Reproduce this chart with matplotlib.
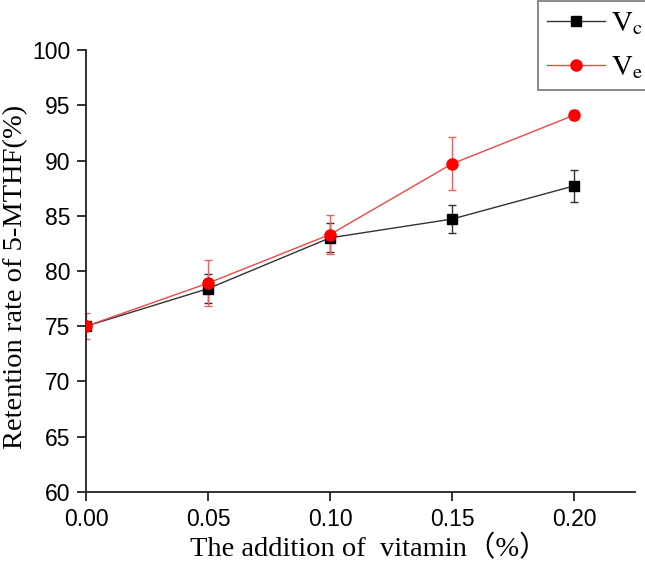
import matplotlib.pyplot as plt

# Retention data
vitamin = [0.00, 0.05, 0.10, 0.15, 0.20]
vc_mean = [75.0, 78.4, 83.0, 84.7, 87.7]
vc_err = [0.3, 1.3, 1.3, 1.3, 1.45]
ve_mean = [75.0, 78.9, 83.3, 89.7, 94.1]
ve_err = [1.2, 2.05, 1.75, 2.4, 0.45]

plt.rcParams['mathtext.fontset'] = 'stix'

fig = plt.figure(figsize=(6.45, 5.62), dpi=100)
ax = fig.add_axes([0.1333, 0.1246, 0.8512, 0.7864])

# error bars first, then line + marker so the legend stays clean
ax.errorbar(vitamin, vc_mean, yerr=vc_err, fmt='none', ecolor='#333333',
            elinewidth=1, capsize=3.2, capthick=1, zorder=2)
ax.errorbar(vitamin, ve_mean, yerr=ve_err, fmt='none', ecolor='#f06060',
            elinewidth=1, capsize=3.2, capthick=1, zorder=2)
ax.plot(vitamin, vc_mean, color='#333333', lw=1, marker='s', ms=6.5,
        mfc='black', mec='black', label=r'$\mathrm{V_c}$', zorder=3)
ax.plot(vitamin, ve_mean, color='#f04848', lw=1, marker='o', ms=8,
        mfc='red', mec='red', label=r'$\mathrm{V_e}$', zorder=4)

ax.set_xlim(0, 0.225)
ax.set_ylim(60, 100)
ax.set_xticks([0.00, 0.05, 0.10, 0.15, 0.20])
ax.set_yticks(range(60, 101, 5))
ax.set_xticklabels(['0.00', '0.05', '0.10', '0.15', '0.20'])

for s in ['top', 'right']:
    ax.spines[s].set_visible(False)
for s in ['left', 'bottom']:
    ax.spines[s].set_linewidth(1.3)
    ax.spines[s].set_color('#222222')
ax.tick_params(direction='out', length=6.5, width=1.3, labelsize=16.5,
               colors='#222222')
ax.tick_params(axis='y', pad=5)
ax.tick_params(axis='x', pad=5)
for lab in ax.get_xticklabels() + ax.get_yticklabels():
    lab.set_family('Liberation Sans')
    lab.set_color('black')

ax.set_xlabel('The addition of  vitamin（%）', fontsize=20.5,
              family=['Liberation Serif', 'Noto Sans CJK SC'])
ax.set_ylabel('Retention rate of 5-MTHF(%)', fontsize=20.5, family='Liberation Serif')
ax.xaxis.set_label_coords(0.515, -0.098)
ax.yaxis.set_label_coords(-0.105, 0.486)

leg = fig.legend(loc='upper left', bbox_to_anchor=(538 / 645, 0.999), fontsize=21,
                 frameon=True, fancybox=False, edgecolor='#555555',
                 handlelength=2.0, borderpad=0.3, labelspacing=0.55,
                 handletextpad=0.2, borderaxespad=0)
leg.get_frame().set_linewidth(1.2)

plt.savefig('out.png', dpi=100)
